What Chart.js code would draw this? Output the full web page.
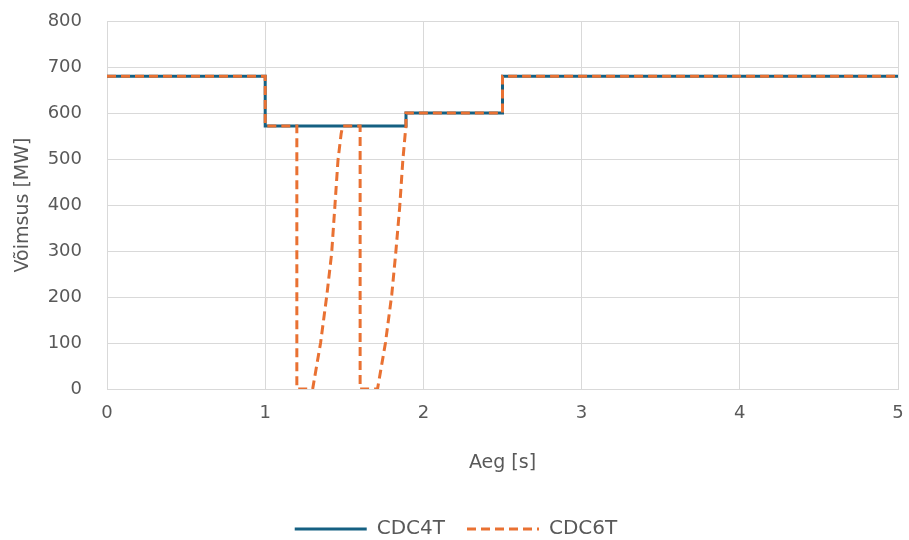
<!DOCTYPE html>
<html>
<head>
<meta charset="utf-8">
<script src="https://cdn.jsdelivr.net/npm/chart.js@4.4.1/dist/chart.umd.min.js"></script>
<style>
  html, body { margin: 0; padding: 0; background: #fff; }
  #wrap { width: 909px; height: 540px; }
</style>
</head>
<body>
<div id="wrap"><canvas id="chart" width="909" height="540"></canvas></div>
<script>
// CDC4T: simple steps
const cdc4tTime  = [0, 1, 1, 1.89, 1.89, 2.5, 2.5, 5];
const cdc4tPower = [680, 680, 572, 572, 600, 600, 680, 680];

// CDC6T: two drops to zero with ramp back up
const cdc6tTime  = [0, 1, 1, 1.2, 1.2, 1.3, 1.35, 1.39, 1.42, 1.44, 1.46, 1.48, 1.49,
                    1.6, 1.6, 1.71, 1.76, 1.80, 1.825, 1.85, 1.87, 1.885, 1.89, 1.89, 2.5, 2.5, 5];
const cdc6tPower = [680, 680, 572, 572, 0, 0, 100, 205, 295, 395, 497, 555, 572,
                    572, 0, 0, 100, 205, 295, 395, 497, 555, 572, 600, 600, 680, 680];

const xTicks = [0, 1, 2, 3, 4, 5];
const yTicks = [0, 100, 200, 300, 400, 500, 600, 700, 800];

const toPoints = (xs, ys) => xs.map((x, i) => ({ x: x, y: ys[i] }));

const textColor = '#595959';
const gridColor = '#d9d9d9';
const titleFont = { family: '"DejaVu Sans", sans-serif', size: 19 };
const legendFont = { family: '"DejaVu Sans", sans-serif', size: 20 };

Chart.defaults.font.family = '"DejaVu Sans", sans-serif';
Chart.defaults.font.size = 18;
Chart.defaults.color = textColor;

new Chart(document.getElementById('chart'), {
  type: 'line',
  data: {
    datasets: [{
      label: 'CDC4T',
      data: toPoints(cdc4tTime, cdc4tPower),
      borderColor: '#156082',
      backgroundColor: '#156082',
      borderWidth: 3,
      pointRadius: 0,
      tension: 0,
      order: 2
    }, {
      label: 'CDC6T',
      data: toPoints(cdc6tTime, cdc6tPower),
      borderColor: '#e97132',
      backgroundColor: '#e97132',
      borderWidth: 3,
      borderDash: [9, 5],
      pointRadius: 0,
      tension: 0,
      order: 1
    }]
  },
  options: {
    responsive: false,
    animation: false,
    layout: { padding: { left: 14, right: 11, top: 21, bottom: -9 } },
    scales: {
      x: {
        type: 'linear',
        min: 0,
        max: 5,
        afterBuildTicks: (axis) => { axis.ticks = xTicks.map(v => ({ value: v })); },
        afterFit: (scale) => {
          scale.height = 108;
          scale.paddingLeft = 0;
          scale.paddingRight = 0;
        },
        ticks: { padding: 14, color: textColor },
        grid: { color: gridColor, drawTicks: false },
        border: { color: gridColor },
        title: { display: true, text: 'Aeg [s]', color: textColor, font: titleFont, padding: { top: 0, bottom: 23 } }
      },
      y: {
        min: 0,
        max: 800,
        afterBuildTicks: (axis) => { axis.ticks = yTicks.map(v => ({ value: v })); },
        afterFit: (scale) => {
          scale.width = 93;
          scale.paddingTop = 0;
          scale.paddingBottom = 0;
        },
        ticks: { padding: 25, color: textColor },
        grid: { color: gridColor, drawTicks: false },
        border: { color: gridColor },
        title: { display: true, text: 'Võimsus [MW]', color: textColor, font: titleFont, padding: { top: -2, bottom: 0 } }
      }
    },
    plugins: {
      legend: {
        position: 'bottom',
        labels: {
          usePointStyle: true,
          pointStyle: 'line',
          pointStyleWidth: 72,
          boxHeight: 3,
          padding: 22,
          color: textColor,
          font: legendFont,
          // keep dataset order and use the line dash in the legend
          generateLabels: (chart) => {
            const items = Chart.defaults.plugins.legend.labels.generateLabels(chart);
            items.forEach(it => {
              const ds = chart.data.datasets[it.datasetIndex];
              it.lineDash = ds.borderDash || [];
              it.lineWidth = 3;
              it.strokeStyle = ds.borderColor;
            });
            return items.sort((a, b) => a.datasetIndex - b.datasetIndex);
          }
        }
      },
      tooltip: { enabled: false }
    }
  }
});
</script>
</body>
</html>
